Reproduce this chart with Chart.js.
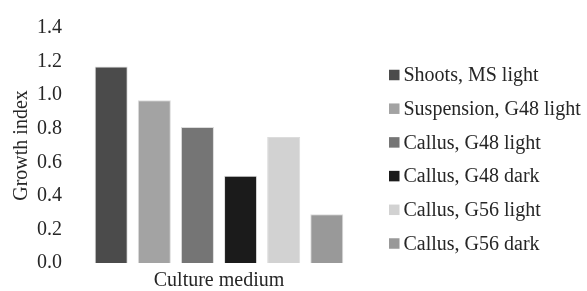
<!DOCTYPE html>
<html>
<head>
<meta charset="utf-8">
<script src="https://cdn.jsdelivr.net/npm/chart.js@4/dist/chart.umd.min.js"></script>
<style>
  html, body { margin: 0; padding: 0; background: #fff; }
  #wrap { width: 587px; height: 291px; position: relative; }
</style>
</head>
<body>
<div id="wrap"><canvas id="chart"></canvas></div>
<script>
// one category, one bar per series
const categories = [''];
const seriesNames = [
    'Shoots, MS light',
    'Suspension, G48 light',
    'Callus, G48 light',
    'Callus, G48 dark',
    'Callus, G56 light',
    'Callus, G56 dark',
];
const seriesValues = [1.17, 0.97, 0.81, 0.52, 0.75, 0.29];
const seriesColors = ['#4b4b4b', '#a3a3a3', '#757575', '#1b1b1b', '#d2d2d2', '#999999'];
const yTicks = [0, 0.2, 0.4, 0.6, 0.8, 1.0, 1.2, 1.4];
const xTitle = 'Culture medium';
const yTitle = 'Growth index';

const FONT = "'Liberation Serif', 'Times New Roman', serif";
const TEXT = '#262626';

Chart.defaults.font.family = FONT;
Chart.defaults.color = TEXT;

// the built-in legend can't take more than half the width, so draw it here
const sideLegend = {
    id: 'sideLegend',
    afterDraw(chart, args, opts) {
        const ctx = chart.ctx;
        ctx.save();
        ctx.font = '20px ' + FONT;
        ctx.textBaseline = 'middle';
        ctx.textAlign = 'left';
        chart.data.datasets.forEach((ds, i) => {
            const y = opts.top + i * opts.step;
            ctx.fillStyle = ds.backgroundColor;
            ctx.fillRect(opts.x, y - opts.box / 2, opts.box, opts.box);
            ctx.fillStyle = TEXT;
            ctx.fillText(ds.label, opts.x + opts.box + opts.gap, y + 1);
        });
        ctx.restore();
    },
};

const datasets = seriesNames.map((name, i) => ({
    label: name,
    data: [seriesValues[i]],
    backgroundColor: seriesColors[i],
    borderColor: '#dcdcdc',
    borderWidth: 1,
    categoryPercentage: 0.886,
    barPercentage: 0.766,
}));

new Chart(document.getElementById('chart'), {
    type: 'bar',
    data: { labels: categories, datasets: datasets },
    plugins: [sideLegend],
    options: {
        responsive: true,
        maintainAspectRatio: false,
        animation: false,
        layout: { padding: { top: 28, right: 222, bottom: -8, left: 0 } },
        plugins: {
            tooltip: { enabled: false },
            legend: { display: false },
            sideLegend: { x: 389, top: 75, step: 33.7, box: 10.5, gap: 4 },
        },
        scales: {
            x: {
                grid: { display: false },
                border: { display: false },
                ticks: { display: false },
                title: { display: true, text: xTitle, font: { size: 20 }, padding: { top: 4, bottom: 6 } },
                afterFit(scale) {
                    scale.height -= 6;
                },
            },
            y: {
                min: yTicks[0],
                max: yTicks[yTicks.length - 1],
                grid: { display: false },
                border: { display: false },
                afterBuildTicks(scale) {
                    scale.ticks = yTicks.map(v => ({ value: v }));
                },
                ticks: {
                    font: { size: 20 },
                    padding: 3,
                    callback: v => Number(v).toFixed(1),
                },
                title: { display: true, text: yTitle, font: { size: 20 }, padding: { top: 10, bottom: 0 } },
            },
        },
    },
});
</script>
</body>
</html>
